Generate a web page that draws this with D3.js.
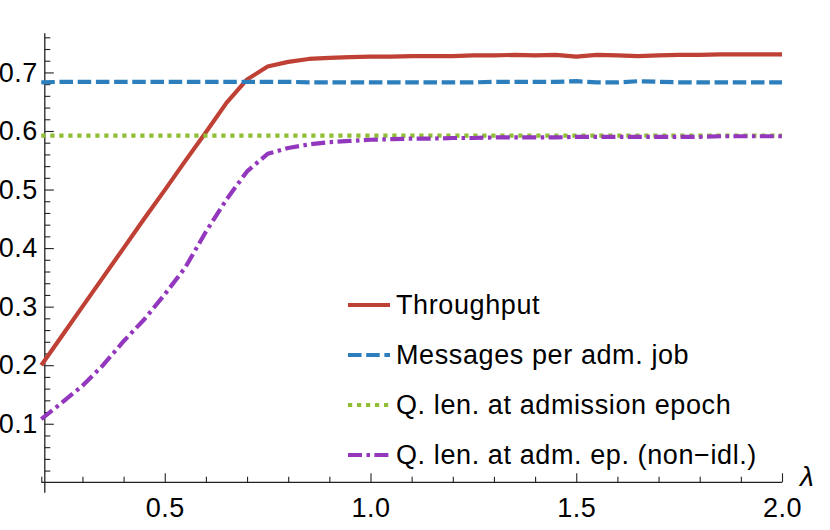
<!DOCTYPE html>
<html>
<head>
<meta charset="utf-8">
<script src="https://cdn.jsdelivr.net/npm/d3@7"></script>
<style>
  body { margin: 0; background: #fff; }
  text { font-family: "Liberation Sans", Arial, sans-serif; }
</style>
</head>
<body>
<div id="chart"></div>
<script>
// Data
const lambda = [0.20,0.25,0.30,0.35,0.40,0.45,0.50,0.55,0.60,0.65,0.70,0.75,0.80,0.85,0.90,0.95,
  1.00,1.05,1.10,1.15,1.20,1.25,1.30,1.35,1.40,1.45,1.50,1.55,1.60,1.65,1.70,1.75,1.80,1.85,1.90,1.95,2.00]

const throughput = [0.200,0.250,0.300,0.350,0.400,0.450,0.499,0.549,0.598,0.648,0.688,0.710,0.718,0.723,0.725,0.726,
  0.727,0.727,0.728,0.728,0.728,0.729,0.729,0.730,0.729,0.730,0.727,0.730,0.729,0.728,0.729,0.730,0.730,0.731,0.731,0.731,0.731]

const messages = [0.683,0.684,0.684,0.684,0.684,0.684,0.684,0.684,0.684,0.684,0.684,0.684,0.684,0.683,0.683,0.683,
  0.683,0.683,0.683,0.683,0.683,0.683,0.684,0.684,0.684,0.684,0.685,0.683,0.683,0.685,0.684,0.683,0.683,0.683,0.683,0.683,0.683]

const queueLen = [0.592,0.592,0.592,0.592,0.592,0.592,0.592,0.592,0.592,0.592,0.592,0.592,0.592,0.592,0.592,0.592,
  0.592,0.592,0.592,0.592,0.592,0.592,0.592,0.592,0.592,0.592,0.592,0.592,0.592,0.592,0.592,0.592,0.592,0.592,0.592,0.592,0.592]

const queueLenNonIdle = [0.108,0.136,0.165,0.200,0.241,0.278,0.321,0.367,0.428,0.483,0.531,0.561,0.571,0.577,0.581,0.583,
  0.585,0.586,0.587,0.587,0.588,0.588,0.589,0.589,0.589,0.589,0.590,0.590,0.590,0.590,0.590,0.590,0.590,0.591,0.591,0.591,0.591]

const seriesNames = ['Throughput','Messages per adm. job','Q. len. at admission epoch','Q. len. at adm. ep. (non\u2212idl.)']

const xTicks = [0.5,1.0,1.5,2.0]
const yTicks = [0.1,0.2,0.3,0.4,0.5,0.6,0.7]

// Dimensions
const width = 830, height = 530

const svg = d3.select('#chart').append('svg')
  .attr('width', width)
  .attr('height', height)

// scales
const x = d3.scaleLinear().domain([0.2, 2.0]).range([41.3, 782])
const y = d3.scaleLinear().domain([0, 0.767]).range([482.3, 33.2])

const styles = [
  {color:'#BF4034', dash:null},
  {color:'#2C7FBC', dash:'13.5,4.7'},
  {color:'#8FBE34', dash:'4.2,4.8'},
  {color:'#9337BE', dash:'14,4.5,3.5,4.4'},
]
const allSeries = [throughput, messages, queueLen, queueLenNonIdle]

// axes: minor ticks first, then major
const xMinor = d3.range(2, 21).map(d => d/10).filter(d => !xTicks.some(t => Math.abs(t-d) < 1e-9))
const yMinor = d3.range(1, 39).map(d => d/50).filter(d => !yTicks.some(t => Math.abs(t-d) < 1e-9))

const xAxisG = svg.append('g').attr('transform', `translate(0,${y(0)})`)
xAxisG.append('g').call(d3.axisBottom(x).tickValues(xMinor).tickFormat('').tickSizeInner(-5.5).tickSizeOuter(0))
xAxisG.append('g').call(d3.axisBottom(x).tickValues(xTicks).tickFormat(d3.format('.1f')).tickSizeInner(-9).tickSizeOuter(0).tickPadding(16))

const yAxisX = x(0.2085)
const yAxisG = svg.append('g').attr('transform', `translate(${yAxisX},0)`)
yAxisG.append('g').call(d3.axisLeft(y).tickValues(yMinor).tickFormat('').tickSizeInner(-5.5).tickSizeOuter(0))
yAxisG.append('g').call(d3.axisLeft(y).tickValues(yTicks).tickFormat(d3.format('.1f')).tickSizeInner(-9).tickSizeOuter(0).tickPadding(7))

svg.selectAll('.domain').remove()
svg.selectAll('.tick line').attr('stroke', '#222').attr('stroke-width', 1.1)
svg.selectAll('.tick text').attr('font-size', 27).attr('fill', '#000')
  .attr('font-family', '"Liberation Sans", Arial, sans-serif')
  .attr('letter-spacing', 0.5)

// axis lines
svg.append('line')
  .attr('x1', x(0.2)).attr('x2', x(2.0))
  .attr('y1', y(0)).attr('y2', y(0))
  .attr('stroke', '#222').attr('stroke-width', 1.3)
svg.append('line')
  .attr('x1', yAxisX).attr('x2', yAxisX)
  .attr('y1', y(0.767)).attr('y2', y(-0.018))
  .attr('stroke', '#222').attr('stroke-width', 1.3)

svg.append('text')
  .attr('x', x(2.0) + 18).attr('y', y(0) + 4)
  .attr('font-family', '"Liberation Serif", "Times New Roman", serif')
  .attr('font-style', 'italic')
  .attr('font-size', 28)
  .text('\u03bb')

// lines
const line = d3.line()
  .x((d, i) => x(lambda[i]))
  .y(d => y(d))

svg.append('g')
  .selectAll('path')
  .data(allSeries)
  .join('path')
  .attr('d', d => line(d))
  .attr('fill', 'none')
  .attr('stroke', (d, i) => styles[i].color)
  .attr('stroke-width', 4.2)
  .attr('stroke-dasharray', (d, i) => styles[i].dash)
  .attr('stroke-linejoin', 'round')

// legend
const legend = svg.append('g').attr('transform', 'translate(348,305)')
const rows = legend.selectAll('g')
  .data(seriesNames)
  .join('g')
  .attr('transform', (d, i) => `translate(0,${i*50})`)

rows.append('line')
  .attr('x1', 0).attr('x2', 42)
  .attr('stroke', (d, i) => styles[i].color)
  .attr('stroke-width', 4.2)
  .attr('stroke-dasharray', (d, i) => styles[i].dash)

rows.append('text')
  .attr('x', 48)
  .attr('dy', '0.35em')
  .attr('font-size', 27)
  .attr('letter-spacing', 0.6)
  .text(d => d)
</script>
</body>
</html>
